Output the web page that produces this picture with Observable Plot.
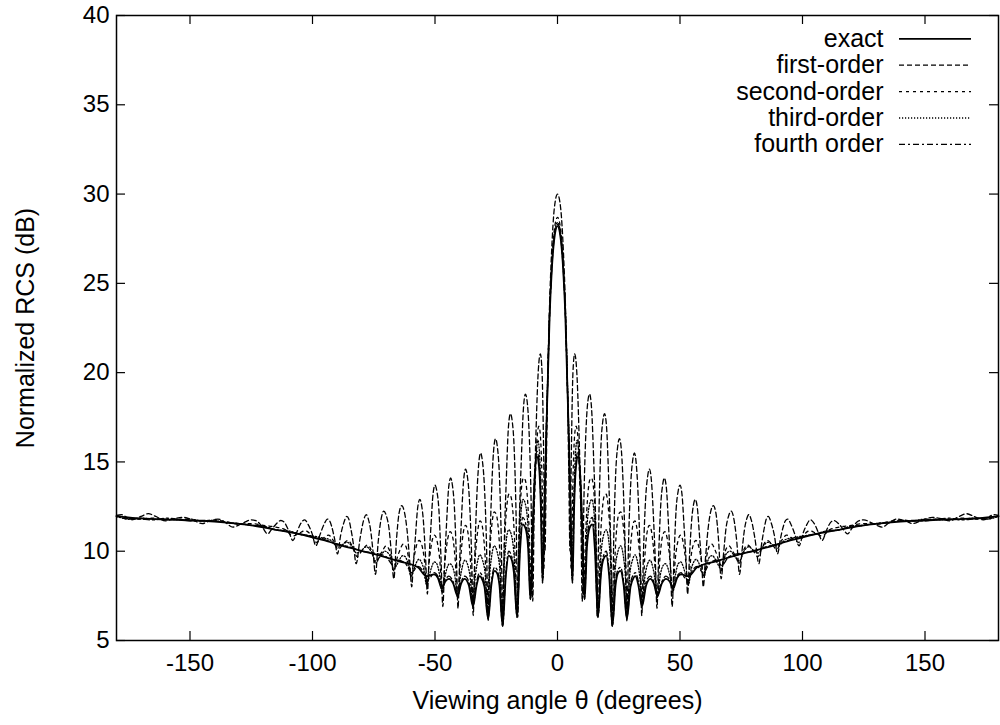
<!DOCTYPE html>
<html><head><meta charset="utf-8">
<script src="https://cdn.jsdelivr.net/npm/d3@7"></script>
<script src="https://cdn.jsdelivr.net/npm/@observablehq/plot@0.6"></script>
<style>
body{margin:0;background:#fff}
#chart svg{font-family:"Liberation Sans",Arial,Helvetica,sans-serif;overflow:visible}
</style>
</head><body><div id="chart"></div>
<script>
// ---- data (pattern symmetric about θ = 0) ----
const xTicks = [-150, -100, -50, 0, 50, 100, 150];
const yTicks = [5, 10, 15, 20, 25, 30, 35, 40];
const seriesNames = ["exact", "first-order", "second-order", "third-order", "fourth order"];

// [θ (deg), RCS (dB)] for θ >= 0
const exact = [[0,28.2],[1.2,27.6],[2.35,25.7],[3.2,23.2],[3.85,20.1],[4.6,16.5],[5.3,12.5],[6.1,8.2],[6.8,12.5],[7.6,14.8],[8.4,15.3],[9.3,14.2],[10.2,11.0],[11.1,7.3],[12.0,10.2],[13.1,11.3],[14.2,11.5],[15.3,10.0],[16.5,6.3],[17.8,8.8],[18.9,9.6],[19.9,9.75],[21.1,8.6],[22.4,5.8],[23.7,8.1],[24.8,8.8],[25.7,8.9],[27.0,8.1],[28.3,6.2],[29.8,8.0],[31.0,8.5],[31.8,8.6],[33.0,8.1],[34.5,6.9],[36.2,8.1],[37.9,8.45],[39.3,8.2],[40.8,7.5],[42.6,8.2],[44.3,8.45],[45.8,8.3],[47.2,7.9],[48.8,8.5],[50.4,8.7],[53.5,8.6],[57,9.1],[65,9.45],[75,9.85],[85,10.2],[95,10.6],[105,10.95],[115,11.2],[125,11.45],[135,11.6],[145,11.7],[155,11.75],[165,11.8],[172,11.85],[180,11.95]];

const firstOrder = [[0,30.0],[1.3,29.2],[2.4,26.8],[3.3,23.5],[4.0,19.5],[4.6,14.5],[5.1,10.0],[5.7,16.0],[6.3,20.0],[7.0,21.05],[7.8,20.2],[8.7,17.0],[9.5,12.5],[10.1,7.2],[10.8,13.0],[11.7,17.0],[12.4,18.4],[13.1,18.8],[13.9,18.0],[14.8,15.0],[15.6,11.5],[16.2,6.3],[16.9,12.0],[17.7,15.8],[18.5,17.3],[19.2,17.7],[20.0,17.0],[20.9,14.0],[21.7,10.5],[22.3,5.8],[23.0,11.0],[23.8,14.5],[24.6,15.9],[25.3,16.3],[26.1,15.6],[27.0,13.0],[27.7,9.8],[28.3,6.1],[29.0,10.5],[29.9,13.8],[30.7,15.1],[31.4,15.5],[32.2,14.8],[33.1,12.5],[33.8,9.5],[34.4,6.4],[35.1,10.0],[36.0,13.0],[36.8,14.2],[37.5,14.6],[38.3,14.0],[39.2,11.8],[40.0,9.2],[40.6,6.8],[41.3,9.8],[42.1,12.5],[42.9,13.7],[43.6,14.1],[44.4,13.6],[45.3,11.5],[46.1,9.2],[46.8,6.9],[47.6,9.8],[48.4,12.3],[49.3,13.4],[50.0,13.7],[50.8,13.2],[51.7,11.3],[52.5,9.4],[53.1,7.6],[53.9,9.8],[54.8,11.8],[55.5,12.6],[56.2,12.9],[57.1,12.4],[58.0,10.8],[58.9,9.2],[59.5,8.0],[60.4,9.6],[61.5,11.3],[62.5,12.2],[63.6,12.55],[64.7,12.1],[65.7,10.7],[66.8,8.45],[67.8,9.9],[68.8,11.3],[69.9,12.0],[70.9,12.25],[72.0,11.8],[73.2,10.5],[74.3,8.7],[75.3,10.0],[76.3,11.2],[77.2,11.8],[78.1,12.05],[79.2,11.7],[80.6,10.7],[82.2,9.3],[83.3,10.4],[84.4,11.3],[85.2,11.8],[86.0,11.95],[87.2,11.6],[88.5,10.9],[89.8,9.85],[91.0,10.7],[92.2,11.4],[93.0,11.7],[93.9,11.8],[95.3,11.5],[97.0,10.9],[98.6,10.3],[100.2,11.0],[101.8,11.5],[103.2,11.76],[105.0,11.5],[106.6,11.0],[108.0,10.6],[109.9,11.2],[111.4,11.6],[112.9,11.72],[115.0,11.5],[116.8,11.2],[118.3,10.97],[120.7,11.4],[122.9,11.7],[125.0,11.76],[128.0,11.6],[130.3,11.45],[132.5,11.35],[135.5,11.6],[138.6,11.8],[142,11.7],[145,11.55],[149,11.75],[153,11.9],[157,11.8],[160,11.7],[164,11.95],[167,12.1],[170,11.95],[173.8,11.76],[177,11.9],[180,12.0]];

const secondOrder = [[0,28.7],[1.3,28.0],[2.4,25.9],[3.3,23.0],[4.0,19.5],[4.8,14.5],[5.6,9.0],[6.3,14.0],[7.0,16.5],[7.6,17.0],[8.3,16.4],[9.2,13.5],[10.0,10.5],[10.6,7.6],[11.5,11.0],[12.4,13.2],[13.2,14.0],[13.9,14.1],[14.8,13.4],[15.7,11.0],[16.7,6.8],[17.5,10.5],[18.4,12.5],[19.1,13.1],[19.8,13.2],[20.7,12.5],[21.7,10.3],[22.7,6.4],[23.5,9.8],[24.4,11.6],[25.1,12.1],[25.8,12.2],[26.7,11.6],[27.7,9.8],[28.6,6.7],[29.5,9.6],[30.4,11.1],[31.0,11.6],[31.6,11.7],[32.5,11.2],[33.6,9.6],[34.6,7.1],[35.6,9.6],[36.5,11.0],[37.5,11.45],[38.5,11.0],[39.6,9.5],[40.7,7.4],[41.8,9.6],[42.8,10.8],[43.8,11.1],[44.8,10.7],[45.9,9.5],[47.0,7.7],[48.1,9.6],[49.2,10.6],[50.2,10.9],[51.3,10.5],[52.3,9.5],[53.3,8.1],[54.4,9.6],[55.5,10.4],[56.5,10.6],[57.6,10.3],[58.7,9.5],[59.7,8.5],[61.0,9.8],[62.0,10.3],[63.0,10.4],[64.2,10.1],[65.5,9.6],[66.8,8.9],[68.2,9.9],[70.0,10.3],[71.5,10.0],[72.8,9.7],[74.1,9.3],[75.8,10.0],[77.5,10.35],[79.5,10.1],[81.8,9.7],[83.5,10.2],[85.5,10.6],[87.5,10.4],[89.5,10.1],[91.5,10.6],[93.5,10.9],[96,10.7],[98.5,10.5],[100.5,10.9],[103,11.15],[105.5,11.0],[108,10.85],[111,11.2],[115,11.35],[120,11.45],[125,11.55],[130,11.5],[135,11.65],[140,11.75],[145,11.7],[150,11.75],[155,11.8],[160,11.75],[165,11.85],[170,11.8],[175,11.8],[180,12.0]];

const thirdOrder = [[0,28.4],[1.3,27.8],[2.4,25.8],[3.3,23.1],[3.9,20.2],[4.7,16.2],[5.3,12.5],[5.9,8.5],[6.7,13.2],[7.4,15.6],[8.0,16.2],[8.8,15.3],[9.8,12.0],[10.9,7.4],[11.8,10.8],[12.9,12.5],[14.0,12.9],[15.0,12.0],[15.8,10.0],[16.6,6.5],[17.6,9.5],[18.8,10.9],[19.9,11.2],[21.0,10.5],[21.8,9.0],[22.5,6.1],[23.5,8.9],[24.7,10.0],[25.8,10.3],[26.9,9.7],[27.7,8.6],[28.4,6.4],[29.5,8.7],[30.6,9.5],[31.7,9.8],[32.8,9.3],[33.7,8.4],[34.5,7.0],[35.7,8.6],[36.8,9.3],[37.8,9.5],[38.9,9.1],[39.9,8.3],[40.7,7.4],[42.0,8.7],[43.1,9.2],[44.1,9.3],[45.2,9.0],[46.2,8.4],[47.1,7.7],[48.3,8.8],[49.3,9.3],[50.3,9.4],[51.4,9.1],[52.4,8.6],[53.4,8.1],[54.6,9.0],[55.6,9.4],[56.6,9.55],[57.8,9.3],[58.8,8.9],[59.8,8.6],[61.2,9.4],[62.2,9.7],[63.2,9.75],[64.6,9.5],[65.7,9.2],[66.8,9.0],[68.6,9.8],[70.5,10.0],[72.4,9.7],[74.2,9.45],[76.1,10.0],[78,10.25],[80,10.05],[82,9.9],[84,10.3],[86,10.5],[88,10.35],[90,10.3],[93,10.65],[96,10.75],[100,10.85],[105,10.95],[110,11.15],[115,11.2],[120,11.4],[125,11.45],[130,11.55],[135,11.6],[140,11.7],[145,11.7],[150,11.8],[155,11.75],[160,11.8],[165,11.8],[170,11.85],[175,11.8],[180,11.95]];

const fourthOrder = [[0,28.3],[1.2,27.7],[2.35,25.8],[3.2,23.3],[3.85,20.2],[4.6,16.6],[5.3,12.6],[6.1,8.3],[6.8,12.7],[7.6,15.1],[8.4,15.6],[9.3,14.4],[10.2,11.1],[11.0,7.3],[12.0,10.5],[13.1,11.6],[14.2,11.9],[15.3,10.3],[16.5,6.3],[17.8,9.0],[18.9,9.8],[19.9,10.0],[21.1,8.8],[22.4,5.8],[23.7,8.3],[24.8,9.0],[25.7,9.1],[27.0,8.3],[28.3,6.3],[29.8,8.2],[31.0,8.7],[31.8,8.8],[33.0,8.3],[34.5,7.0],[36.2,8.3],[37.9,8.6],[39.3,8.3],[40.8,7.6],[42.6,8.3],[44.3,8.6],[45.8,8.4],[47.2,8.0],[48.8,8.6],[50.4,8.8],[52,8.5],[53.5,8.4],[55,8.9],[57,9.15],[59.5,8.8],[62,9.3],[65,9.5],[67,9.2],[70,9.7],[75,9.9],[80,10.0],[85,10.25],[90,10.4],[95,10.65],[100,10.8],[105,10.95],[110,11.1],[115,11.2],[120,11.4],[125,11.45],[130,11.55],[135,11.6],[140,11.7],[145,11.72],[150,11.7],[155,11.8],[160,11.85],[165,11.75],[170,11.8],[175,11.85],[178,12.05],[180,12.0]];

// ---- build the table (reflect the θ >= 0 readings to θ < 0) ----
const seriesData = [exact, firstOrder, secondOrder, thirdOrder, fourthOrder];
function fullSeries(pairs, name) {
  const rows = [];
  for (const [t, v] of pairs) {
    rows.push({theta: t, db: v, series: name});
    if (t > 0) rows.push({theta: -t, db: v, series: name});
  }
  return rows.sort((a, b) => a.theta - b.theta);
}
const styles = [
  {strokeWidth: 1.8, strokeDasharray: null},
  {strokeWidth: 1.3, strokeDasharray: "5,3"},
  {strokeWidth: 1.3, strokeDasharray: "3,4"},
  {strokeWidth: 1.3, strokeDasharray: "1.2,1.8"},
  {strokeWidth: 1.3, strokeDasharray: "6,3,2,3"}
];

const W = 1000, H = 725, mL = 116, mR = 2, mT = 15, mB = 85;
const innerW = W - mL - mR, innerH = H - mT - mB;
const tick = 9;
const FS = 24;

const marks = [];
seriesData.forEach((pairs, i) => {
  marks.push(Plot.line(fullSeries(pairs, seriesNames[i]), {
    x: "theta", y: "db", curve: "monotone-x",
    stroke: "black", ...styles[i], strokeLinejoin: "round"
  }));
});

// inward ticks on all four sides (gnuplot style)
marks.push(Plot.tickX(xTicks, {x: d => d, insetTop: innerH - tick, stroke: "black", strokeWidth: 1.2}));
marks.push(Plot.tickX(xTicks, {x: d => d, insetBottom: innerH - tick, stroke: "black", strokeWidth: 1.2}));
marks.push(Plot.tickY(yTicks, {y: d => d, insetRight: innerW - tick, stroke: "black", strokeWidth: 1.2}));
marks.push(Plot.tickY(yTicks, {y: d => d, insetLeft: innerW - tick, stroke: "black", strokeWidth: 1.2}));

marks.push(Plot.axisX({ticks: xTicks, tickSize: 0, tickPadding: 13, label: null, fontSize: FS, tickFormat: d => String(d)}));
marks.push(Plot.axisY({ticks: yTicks, tickSize: 0, tickPadding: 7, label: null, fontSize: FS, tickFormat: d => String(d)}));
marks.push(Plot.frame({stroke: "black", strokeWidth: 1.5}));

marks.push(Plot.text(["Viewing angle θ (degrees)"], {text: d => d, frameAnchor: "bottom", dy: 60, lineAnchor: "middle", textAnchor: "middle", fontSize: FS + 1, fill: "black"}));
marks.push(Plot.text(["Normalized RCS (dB)"], {text: d => d, frameAnchor: "left", dx: -91, rotate: -90, lineAnchor: "middle", textAnchor: "middle", fontSize: FS + 1, fill: "black"}));

// legend inside the top-right corner
const yTop = yTicks[yTicks.length - 1];
seriesNames.forEach((name, i) => {
  const dy = 23.3 + i * 26.4;
  marks.push(Plot.text([name], {text: d => d, frameAnchor: "top-right", dx: -115, dy, textAnchor: "end", lineAnchor: "middle", fontSize: FS + 1, fill: "black"}));
  marks.push(Plot.tickY([yTop], {y: d => d, dy, insetLeft: 899 - mL, insetRight: W - mR - 971, stroke: "black", ...styles[i]}));
});

const chart = Plot.plot({
  width: W, height: H,
  marginLeft: mL, marginRight: mR, marginTop: mT, marginBottom: mB,
  x: {domain: [-180, 180]},
  y: {domain: [5, 40]},
  style: {background: "white", color: "black", fontFamily: '"Liberation Sans", Arial, sans-serif'},
  marks
});
document.getElementById("chart").appendChild(chart);
</script>
</body></html>
